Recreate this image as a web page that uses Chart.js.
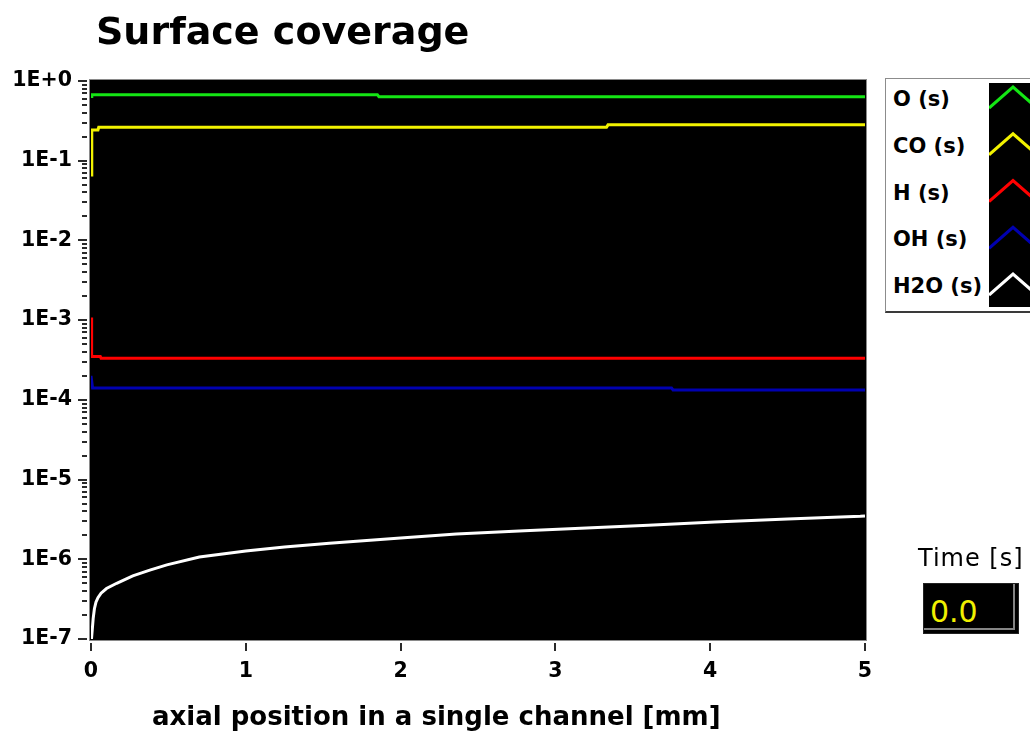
<!DOCTYPE html>
<html>
<head>
<meta charset="utf-8">
<title>Surface coverage</title>
<script src="https://cdn.jsdelivr.net/npm/chart.js@4/dist/chart.umd.min.js"></script>
<style>
  html, body { margin: 0; padding: 0; background: #fff; width: 1030px; height: 736px; overflow: hidden; }
  #wrap { position: relative; width: 1030px; height: 736px; font-family: "DejaVu Sans", sans-serif; color: #000; }
  #c { position: absolute; left: 0; top: 0; }
  .title { position: absolute; left: 96px; top: 12px; font-size: 38px; font-weight: bold; line-height: 1; white-space: nowrap; }
  .xtitle { position: absolute; left: 152px; top: 703px; font-size: 26px; font-weight: bold; line-height: 1; white-space: nowrap; }
  #legend { position: absolute; left: 885px; top: 78px; width: 170px; height: 235px; box-sizing: border-box;
            border: 1px solid #8c8c8c; border-bottom: 2px solid #3a3a3a; background: #fff; }
  #swatch { position: absolute; left: 989px; top: 83px; width: 60px; height: 224px; background: #000; }
  #swatch svg { position: absolute; left: 0; top: 0; }
  .lg { position: absolute; left: 893px; font-size: 21px; font-weight: bold; line-height: 1; white-space: nowrap; }
  .time { position: absolute; left: 918px; top: 546px; font-size: 24px; letter-spacing: 1px; line-height: 1; white-space: nowrap; }
  .tbox { position: absolute; left: 923px; top: 583px; width: 96px; height: 51px; box-sizing: border-box; background: #000;
          border: 1px solid #222; box-shadow: inset -3px -3px 0 0 #000, inset -5px -5px 0 0 #858585; }
  .tval { position: absolute; left: 930px; top: 597px; font-size: 30px; line-height: 1; color: #f0f000; white-space: nowrap; }
</style>
</head>
<body>
<div id="wrap">
  <canvas id="c" width="1030" height="736" style="width:1030px;height:736px;"></canvas>
  <div class="title">Surface coverage</div>
  <div class="xtitle">axial position in a single channel [mm]</div>
  <div id="legend"></div>
  <div id="swatch"></div>
  <div class="time">Time [s]</div>
  <div class="tbox"></div>
  <div class="tval">0.0</div>
</div>
<script>
// Species surface coverage along the channel (axial position in mm)
const speciesNames = ['O (s)', 'CO (s)', 'H (s)', 'OH (s)', 'H2O (s)'];
const speciesColors = ['#14e614', '#f2f200', '#ff0000', '#0000b0', '#ffffff'];

const xO   = [0, 0.005, 1.85, 1.86, 5];
const covO = [0.64, 0.673, 0.673, 0.635, 0.635];

const xCO   = [0, 0.005, 0.045, 0.05, 3.33, 3.34, 5];
const covCO = [0.066, 0.243, 0.243, 0.263, 0.263, 0.282, 0.282];

const xH   = [0, 0.004, 0.06, 0.065, 5];
const covH = [1.08e-3, 3.5e-4, 3.5e-4, 3.33e-4, 3.33e-4];

const xOH   = [0, 0.01, 3.75, 3.76, 5];
const covOH = [2.0e-4, 1.41e-4, 1.41e-4, 1.33e-4, 1.33e-4];

const xH2O   = [0.003, 0.008, 0.014, 0.022, 0.032, 0.045, 0.065, 0.10, 0.166, 0.27, 0.38, 0.49, 0.70, 1.0, 1.25, 1.54, 2.0, 2.36, 2.8, 3.20, 3.6, 4.03, 4.5, 4.97, 5];
const covH2O = [1.0e-7, 1.3e-7, 1.8e-7, 2.4e-7, 2.9e-7, 3.3e-7, 3.75e-7, 4.3e-7, 5.0e-7, 6.2e-7, 7.3e-7, 8.5e-7, 1.07e-6, 1.27e-6, 1.43e-6, 1.59e-6, 1.85e-6, 2.08e-6, 2.28e-6, 2.46e-6, 2.68e-6, 2.94e-6, 3.2e-6, 3.47e-6, 3.5e-6];

// Axis ticks
const xTickValues = [0, 1, 2, 3, 4, 5];
const yTickValues = [1e-7, 1e-6, 1e-5, 1e-4, 1e-3, 1e-2, 1e-1, 1];
const yTickLabels = ['1E-7', '1E-6', '1E-5', '1E-4', '1E-3', '1E-2', '1E-1', '1E+0'];

const seriesX = [xO, xCO, xH, xOH, xH2O];
const seriesY = [covO, covCO, covH, covOH, covH2O];

const datasets = speciesNames.map((name, k) => ({
  label: name,
  data: seriesX[k].map((x, i) => ({ x: x, y: seriesY[k][i] })),
  borderColor: speciesColors[k],
  borderWidth: 3,
  pointRadius: 0,
  tension: 0,
  fill: false
}));

const tickFont = { family: 'DejaVu Sans', size: 20.5, weight: 'bold' };

// Black plot background, axis frame and tick marks
const frame = {
  id: 'frame',
  beforeDatasetsDraw(chart) {
    const { ctx, chartArea: a } = chart;
    ctx.save();
    ctx.fillStyle = '#000';
    ctx.fillRect(a.left - 1, a.top - 1, a.right - a.left + 2, a.bottom - a.top + 2);
    ctx.restore();
  },
  afterDraw(chart) {
    const { ctx, chartArea: a, scales } = chart;
    ctx.save();
    ctx.strokeStyle = '#8a8a8a';
    ctx.lineWidth = 1;
    ctx.strokeRect(a.left - 1.5, a.top - 1.5, a.right - a.left + 3, a.bottom - a.top + 3);
    ctx.strokeStyle = '#2a2a2a';
    ctx.lineWidth = 2;
    ctx.beginPath();
    // y ticks: long at each decade, short for 2..9
    for (let i = 0; i < yTickValues.length; i++) {
      const base = yTickValues[i];
      const py = Math.round(scales.y.getPixelForValue(base));
      ctx.moveTo(a.left - 13, py); ctx.lineTo(a.left - 4, py);
      if (i < yTickValues.length - 1) {
        for (let m = 2; m <= 9; m++) {
          const pm = Math.round(scales.y.getPixelForValue(base * m));
          ctx.moveTo(a.left - 9, pm); ctx.lineTo(a.left - 4, pm);
        }
      }
    }
    // x ticks below the axis
    for (const v of xTickValues) {
      const px = Math.round(scales.x.getPixelForValue(v));
      ctx.moveTo(px, a.bottom + 4); ctx.lineTo(px, a.bottom + 12);
    }
    ctx.stroke();
    ctx.restore();
  }
};

const chart = new Chart(document.getElementById('c'), {
  type: 'line',
  data: { datasets: datasets },
  plugins: [frame],
  options: {
    responsive: false,
    animation: false,
    layout: { padding: { top: 81, right: 165, left: 0, bottom: 0 } },
    plugins: { legend: { display: false }, tooltip: { enabled: false }, title: { display: false } },
    scales: {
      x: {
        type: 'linear', min: 0, max: 5,
        grid: { display: false, drawTicks: false },
        border: { display: false },
        afterBuildTicks(s) { s.ticks = xTickValues.map(v => ({ value: v })); },
        afterFit(s) { s.height = 97; },
        ticks: { font: tickFont, color: '#000', padding: 20, maxRotation: 0, autoSkip: false,
                 callback: (v) => String(v) }
      },
      y: {
        type: 'logarithmic', min: 1e-7, max: 1,
        grid: { display: false, drawTicks: false },
        border: { display: false },
        afterBuildTicks(s) { s.ticks = yTickValues.map(v => ({ value: v, major: true })); },
        afterFit(s) { s.width = 91; },
        ticks: { font: tickFont, color: '#000', padding: 19, autoSkip: false,
                 callback: (v, i) => yTickLabels[i] }
      }
    }
  }
});

// Legend: labels on the left, chevron line samples on a black strip
(function buildLegend() {
  const wrap = document.getElementById('wrap');
  const sw = document.getElementById('swatch');
  const ns = 'http://www.w3.org/2000/svg';
  const svg = document.createElementNS(ns, 'svg');
  svg.setAttribute('width', '60');
  svg.setAttribute('height', '224');
  chart.data.datasets.forEach((ds, i) => {
    const peak = 87 + i * 46.75;
    const lab = document.createElement('div');
    lab.className = 'lg';
    lab.style.top = (peak + 2) + 'px';
    lab.textContent = ds.label;
    wrap.appendChild(lab);
    const p = peak - 83;
    const pl = document.createElementNS(ns, 'polyline');
    pl.setAttribute('points', `0,${p + 21} 24,${p} 48,${p + 21}`);
    pl.setAttribute('fill', 'none');
    pl.setAttribute('stroke', ds.borderColor);
    pl.setAttribute('stroke-width', '3');
    svg.appendChild(pl);
  });
  sw.appendChild(svg);
})();
</script>
</body>
</html>
